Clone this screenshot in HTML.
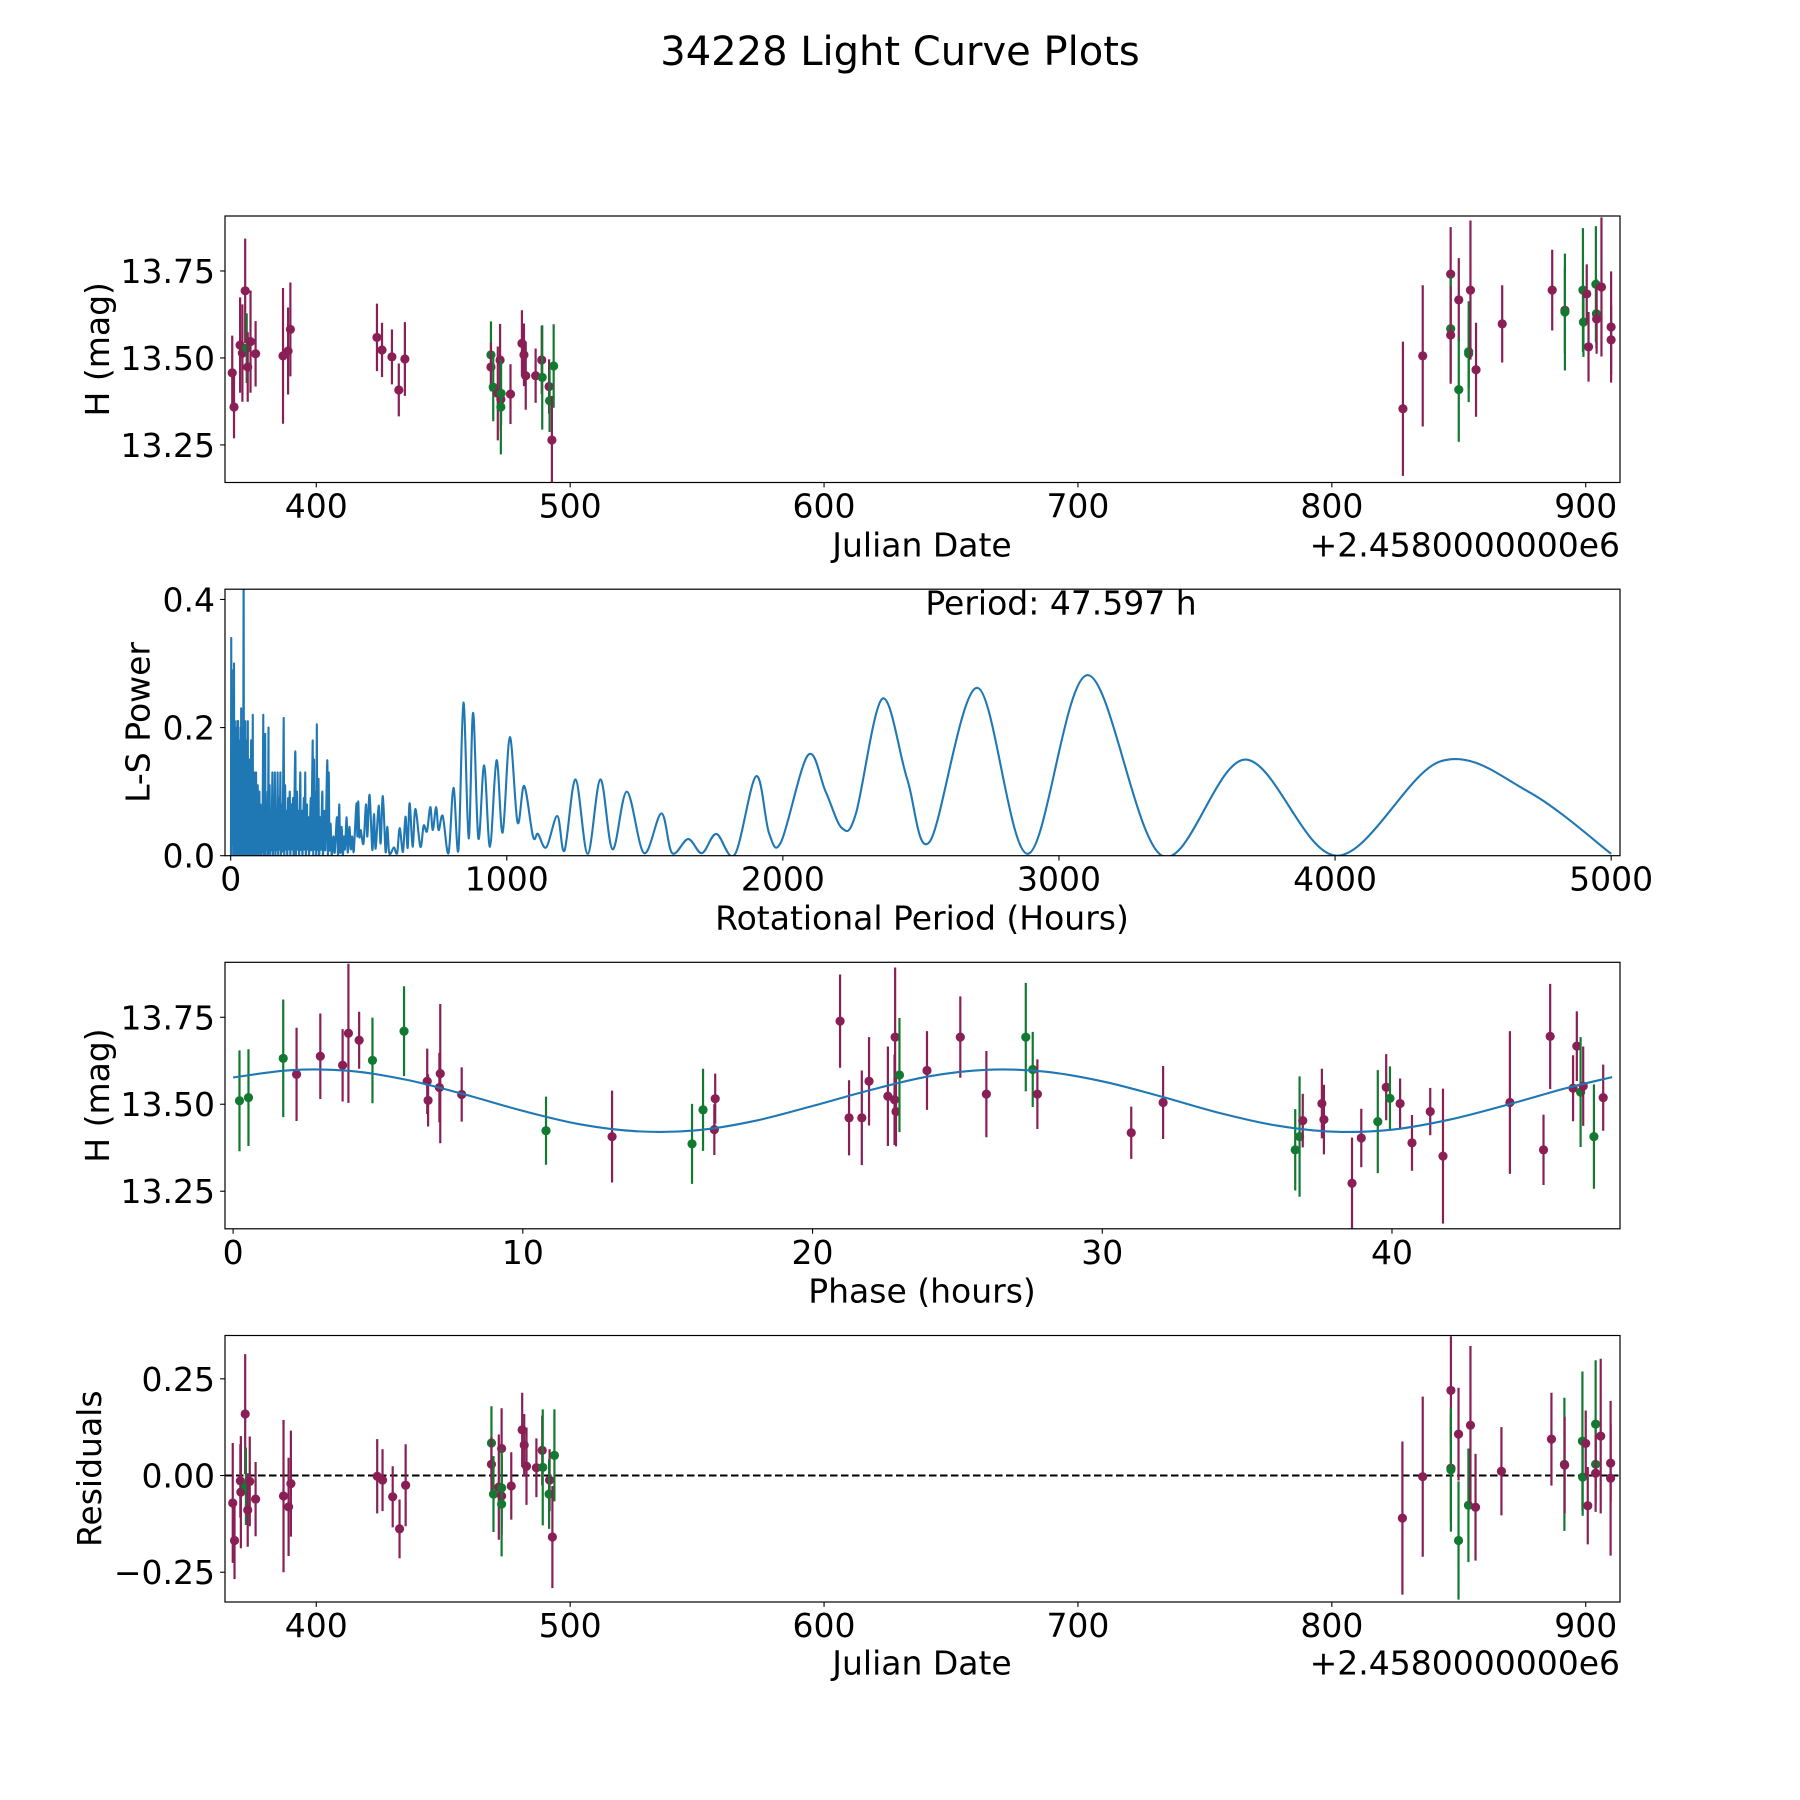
<!DOCTYPE html>
<html>
<head>
<meta charset="utf-8">
<style>
html,body{margin:0;padding:0;background:#fff;}
svg{display:block;}
text{font-family:"DejaVu Sans","Liberation Sans",sans-serif;fill:#000;}
</style>
</head>
<body>
<svg id="fig" width="1800" height="1800" viewBox="0 0 1800 1800" xmlns="http://www.w3.org/2000/svg">
<rect x="0" y="0" width="1800" height="1800" fill="#fff"/>
<text x="900" y="52" font-size="40" text-anchor="middle" dominant-baseline="central">34228 Light Curve Plots</text>
</svg>
<script>
// ---------- Light curve data (JD offset from 2458000) ----------
const lcJd   = [366.9,367.6,370.0,370.9,372.0,372.6,373.0,374.1,376.1,386.9,388.9,389.8,423.9,425.9,429.8,432.5,434.9,
  468.8,468.8,469.7,471.5,472.4,472.7,472.8,472.7,476.5,481.0,481.8,482.5,486.4,488.8,489.0,491.7,491.9,492.8,493.5,
  828.0,835.8,846.8,846.8,846.8,850.0,850.0,853.9,853.9,854.6,856.8,867.1,886.8,891.8,891.8,898.9,899.1,900.4,901.1,904.0,904.2,904.3,906.2,910.0,910.0];
const lcMag  = [13.457,13.359,13.537,13.514,13.693,13.528,13.474,13.547,13.512,13.506,13.520,13.582,13.559,13.523,13.503,13.408,13.497,
  13.509,13.474,13.416,13.398,13.494,13.381,13.398,13.359,13.396,13.542,13.509,13.449,13.449,13.494,13.444,13.418,13.377,13.264,13.477,
  13.354,13.506,13.741,13.584,13.566,13.667,13.409,13.518,13.512,13.695,13.466,13.598,13.695,13.637,13.632,13.695,13.603,13.684,13.532,13.712,13.627,13.612,13.704,13.589,13.552];
const lcErr  = [0.107,0.090,0.137,0.140,0.150,0.100,0.100,0.147,0.094,0.195,0.125,0.135,0.097,0.078,0.079,0.076,0.106,
  0.096,0.070,0.098,0.135,0.104,0.090,0.090,0.136,0.086,0.095,0.090,0.098,0.078,0.098,0.150,0.078,0.090,0.127,0.120,
  0.193,0.203,0.135,0.150,0.140,0.120,0.150,0.145,0.100,0.200,0.135,0.111,0.116,0.123,0.168,0.178,0.100,0.085,0.100,0.167,0.100,0.100,0.200,0.160,0.100];
const lcBand = ['p','p','p','p','p','g','p','p','p','p','p','p','p','p','p','p','p',
  'g','p','g','p','p','p','g','g','p','p','p','p','p','p','g','p','g','p','g',
  'p','p','p','g','p','p','g','g','g','p','p','p','p','p','g','g','g','p','p','g','g','p','p','p','p'];

// ---------- Lomb-Scargle periodogram ----------
const lsPeriod = [1,2,3,5,6,8,9,10,11,12,13,15,16,18,19,21,22,24,25,27,28,30,31,33,34,36,37,38,39,41,42,44,45,47,48,50,51,53,54,56,57,59,60,62,63,65,66,68,69,71,72,74,75,77,78,80,81,83,84,86,87,89,90,92,93,95,96,98,99,101,102,104,105,108,110,113,115,118,119,121,122,125,126,129,131,134,135,137,138,141,143,146,148,151,153,156,158,160,162,165,167,170,172,175,177,180,182,185,188,192,194,197,199,202,205,208,210,214,216,220,222,226,228,234,236,240,242,246,248,252,254,258,260,265,267,270,272,276,278,282,284,290,292,297,299,302,304,308,310,312,314,318,320,325,327,332,334,340,343,350,352,355,358,362,366,372,377,385,389,393,397,402,406,410,414,420,424,430,435,440,445,
  449,456,459,462,466,471,481,490,495,503,513,519,525,536,543,551,561,567,573,579,591,603,612,624,633,641,648,659,669,687,699,711,723,732,744,753,768,789,807,825,843,862,878,897,918,939,963,985,1011,1039,1063,1095,1113,1143,1183,1209,1249,1293,1339,1383,1435,1497,1560,1599,1657,1707,1759,1826,1903,1950,1994,2091,2155,2214,2264,2360,2450,2532,2705,2888,3104,3373,3675,4006,4380,4700,5000];
const lsPower = [0.0,0.34,0.02,0.2,0.03,0.21,0.0,0.29,0.02,0.30,0.05,0.21,0.0,0.15,0.03,0.2,0.0,0.21,0.04,0.21,0.0,0.18,0.02,0.14,0.0,0.20,0.03,0.23,0.0,0.19,0.02,0.2,0.0,0.45,0.0,0.19,0.02,0.21,0.0,0.15,0.02,0.18,0.0,0.21,0.02,0.12,0.0,0.15,0.02,0.12,0.0,0.18,0.02,0.1,0.0,0.22,0.02,0.11,0.0,0.13,0.02,0.09,0.0,0.13,0.02,0.08,0.0,0.11,0.01,0.07,0.0,0.10,0.02,0.08,0.0,0.07,0.01,0.22,0.0,0.09,0.02,0.19,0.0,0.08,0.01,0.10,0.0,0.20,0.01,0.11,0.0,0.06,0.01,0.13,0.0,0.08,0.01,0.13,0.0,0.07,0.01,0.13,0.0,0.09,0.01,0.13,0.0,0.08,0.01,0.215,0.0,0.11,0.01,0.07,0.0,0.09,0.01,0.10,0.0,0.08,0.01,0.09,0.0,0.163,0.0,0.10,0.01,0.07,0.0,0.13,0.01,0.07,0.0,0.09,0.01,0.13,0.0,0.08,0.01,0.06,0.0,0.09,0.01,0.18,0.0,0.15,0.01,0.1,0.0,0.205,0.01,0.12,0.0,0.06,0.01,0.1,0.0,0.07,0.01,0.149,0.0,0.13,0.01,0.05,0.0,0.03,0.005,0.06,0.0,0.08,0.005,0.045,0.0,0.03,0.01,0.06,0.005,0.045,0.01,0.03,0.005,
  0.03,0.082,0.03,0.085,0.03,0.04,0.019,0.08,0.03,0.095,0.009,0.065,0.011,0.078,0.019,0.093,0.006,0.045,0.008,0.003,0.013,0.004,0.043,0.006,0.061,0.012,0.082,0.014,0.073,0.014,0.047,0.038,0.076,0.04,0.076,0.04,0.062,0.004,0.106,0.009,0.239,0.027,0.223,0.027,0.141,0.014,0.149,0.036,0.185,0.052,0.109,0.03,0.034,0.013,0.062,0.008,0.119,0.003,0.119,0.01,0.10,0.004,0.066,0.004,0.026,0.004,0.034,0.002,0.124,0.035,0.022,0.157,0.10,0.043,0.065,0.245,0.12,0.022,0.262,0.003,0.282,0.0,0.150,0.0,0.147,0.100,0.003];

// ---------- Phased light curve ----------
const phHours = [0.22,0.53,1.73,2.19,3.01,3.78,3.98,4.35,4.81,5.90,6.70,6.73,7.15,7.12,7.89,10.8,13.08,15.84,16.22,16.61,16.64,20.95,21.26,21.70,21.95,22.60,22.83,22.85,22.88,23.0,
  23.95,25.1,26.0,27.36,27.6,27.76,31.0,32.1,36.66,36.81,36.92,37.58,37.65,38.62,38.94,39.51,39.8,39.93,40.28,40.69,41.32,41.76,44.07,45.23,45.46,46.25,46.38,46.51,46.6,46.97,47.29];
const phMag = [13.510,13.519,13.632,13.586,13.638,13.612,13.704,13.684,13.626,13.710,13.566,13.511,13.588,13.548,13.528,13.424,13.407,13.386,13.484,13.427,13.516,13.739,13.461,13.461,13.566,13.523,13.513,13.693,13.479,13.584,
  13.597,13.693,13.529,13.693,13.600,13.529,13.418,13.505,13.369,13.407,13.453,13.502,13.456,13.273,13.403,13.450,13.549,13.517,13.502,13.389,13.479,13.351,13.505,13.369,13.695,13.546,13.667,13.535,13.552,13.407,13.519];
const phErr = [0.145,0.139,0.169,0.134,0.123,0.104,0.200,0.082,0.123,0.129,0.094,0.075,0.200,0.100,0.078,0.098,0.132,0.115,0.118,0.073,0.072,0.134,0.108,0.136,0.127,0.143,0.130,0.200,0.100,0.164,
  0.113,0.117,0.124,0.156,0.108,0.100,0.075,0.105,0.117,0.173,0.077,0.100,0.100,0.131,0.084,0.148,0.095,0.092,0.072,0.080,0.068,0.194,0.205,0.101,0.151,0.095,0.100,0.158,0.114,0.150,0.095];
const phBand = ['g','g','g','p','p','p','p','p','g','g','p','p','p','p','p','g','p','g','g','p','p','p','p','p','p','p','p','p','p','g',
  'p','p','p','g','g','p','p','p','g','g','p','p','p','p','p','g','p','g','p','p','p','p','p','p','p','p','p','g','p','g','p'];
// fitted model sampled every 2 hours
const fitPhase = [0,2,4,6,8,10,12,14,16,18,20,22,24,26,28,30,32,34,36,38,40,42,44,46,47.6];
const fitMag = [13.577,13.598,13.596,13.570,13.528,13.481,13.442,13.422,13.425,13.452,13.495,13.541,13.580,13.599,13.594,13.566,13.523,13.476,13.439,13.421,13.427,13.456,13.499,13.546,13.578];

// ---------- Residuals ----------
const resJd = [367.1,367.8,370.1,370.3,372.0,372.3,373.0,373.8,376.1,387.1,389.1,390.0,424.0,426.1,430.1,432.8,435.2,
  469.0,469.0,469.8,471.9,473.0,473.0,473.0,473.0,476.8,481.1,481.9,482.8,486.7,489.0,489.2,491.9,491.7,493.0,493.8,
  827.8,835.8,846.9,846.9,846.9,849.9,849.9,853.8,854.6,856.6,866.8,886.5,891.6,891.7,898.7,898.8,900.0,900.8,903.9,903.9,903.9,905.9,909.8,909.8];
const resVal = [-0.071,-0.168,-0.014,-0.043,0.159,-0.028,-0.089,-0.015,-0.061,-0.053,-0.081,-0.021,-0.002,-0.012,-0.055,-0.138,-0.025,
  0.084,0.029,-0.048,-0.030,0.070,-0.032,-0.053,-0.074,-0.027,0.118,0.079,0.024,0.020,0.065,0.021,-0.012,-0.048,-0.159,0.052,
  -0.110,-0.003,0.220,0.019,0.015,0.107,-0.168,-0.077,0.130,-0.082,0.011,0.094,0.029,0.027,0.089,-0.004,0.083,-0.078,0.133,0.029,0.006,0.102,0.032,-0.007];
const resErr = [0.155,0.100,0.095,0.145,0.155,0.100,0.095,0.116,0.096,0.197,0.127,0.137,0.096,0.080,0.079,0.076,0.106,
  0.095,0.070,0.098,0.136,0.104,0.100,0.100,0.135,0.087,0.096,0.080,0.100,0.076,0.090,0.150,0.080,0.090,0.132,0.119,
  0.198,0.207,0.140,0.140,0.160,0.120,0.153,0.147,0.205,0.138,0.114,0.120,0.172,0.125,0.180,0.100,0.085,0.100,0.165,0.100,0.100,0.200,0.100,0.200];
const resBand = ['p','p','p','p','p','g','p','p','p','p','p','p','p','p','p','p','p',
  'g','p','g','p','p','g','p','g','p','p','p','p','p','p','g','p','g','p','g',
  'p','p','p','p','g','p','g','g','p','p','p','p','g','p','g','g','p','p','g','g','p','p','p','p'];

const xTicksJd = [400,500,600,700,800,900];
const yTicksMag = [13.25,13.50,13.75];
const yTickMagLabels = ['13.25','13.50','13.75'];
const xTicksLs = [0,1000,2000,3000,4000,5000];
const yTicksLs = [0,0.2,0.4];
const yTickLsLabels = ['0.0','0.2','0.4'];
const xTicksPh = [0,10,20,30,40];
const yTicksRes = [-0.25,0,0.25];
const yTickResLabels = ['\u22120.25','0.00','0.25'];

const NS = 'http://www.w3.org/2000/svg';
const svg = document.getElementById('fig');
const COL = {p:'#891f54', g:'#127a30'};
const L = 225, R = 1620, H = 266.5;
const TOPS = [216, 589.2, 962.3, 1335.5];

function mk(tag, attrs, parent) {
  const e = document.createElementNS(NS, tag);
  for (const k in attrs) e.setAttribute(k, attrs[k]);
  (parent || svg).appendChild(e);
  return e;
}
function lin(d0, d1, r0, r1) { return v => r0 + (v - d0) / (d1 - d0) * (r1 - r0); }

function axesFrame(idx, name) {
  const g = mk('g', {});
  
  
  const cp = mk('clipPath', {id: 'clip' + idx}, g);
  mk('rect', {x: L, y: TOPS[idx], width: R - L, height: H}, cp);
  const plot = mk('g', {'clip-path': 'url(#clip' + idx + ')'}, g);
  
  
  return {g, plot, top: TOPS[idx], bot: TOPS[idx] + H};
}
function spines(ax) {
  const r = mk('rect', {x: L, y: ax.top, width: R - L, height: H, fill: 'none', stroke: '#000', 'stroke-width': 1.2}, ax.g);
  
  
}
function xTicks(ax, ticks, labels, X) {
  ticks.forEach((t, i) => {
    const x = X(t);
    mk('line', {x1: x, x2: x, y1: ax.bot, y2: ax.bot + 4.9, stroke: '#000', 'stroke-width': 1.1}, ax.g);
    const tx = mk('text', {x: x, y: ax.bot + 35, 'font-size': 33, 'text-anchor': 'middle'}, ax.g);
    tx.textContent = labels[i];
    
    
  });
}
function yTicks(ax, ticks, labels, Y) {
  ticks.forEach((t, i) => {
    const y = Y(t);
    mk('line', {x1: L - 4.9, x2: L, y1: y, y2: y, stroke: '#000', 'stroke-width': 1.1}, ax.g);
    const tx = mk('text', {x: L - 10, y: y + 12, 'font-size': 33, 'text-anchor': 'end'}, ax.g);
    tx.textContent = labels[i];
    
    
  });
}
function label(ax, txt, x, y, rot, anchor, name) {
  const t = mk('text', {x: 0, y: 0, 'font-size': 33, 'text-anchor': anchor || 'middle', 'dominant-baseline': 'central',
    transform: 'translate(' + x + ',' + y + ')' + (rot ? ' rotate(-90)' : '')}, ax.g);
  t.textContent = txt;
  
  
}
function errPoints(ax, xs, ys, es, bands, X, Y, name) {
  xs.forEach((xv, i) => {
    const x = X(xv), c = COL[bands[i]];
    const ln = mk('line', {x1: x, x2: x, y1: Y(ys[i] + es[i]), y2: Y(ys[i] - es[i]), stroke: c, 'stroke-width': 2.2}, ax.plot);
    
    
    const dot = mk('circle', {cx: x, cy: Y(ys[i]), r: 4.6, fill: c}, ax.plot);
    
    
  });
}
function smoothPath(pts) {
  let d = 'M' + pts[0][0].toFixed(2) + ',' + pts[0][1].toFixed(2);
  for (let i = 0; i < pts.length - 1; i++) {
    const p0 = pts[Math.max(0, i - 1)], p1 = pts[i], p2 = pts[i + 1], p3 = pts[Math.min(pts.length - 1, i + 2)];
    const c1x = p1[0] + (p2[0] - p0[0]) / 6, c1y = p1[1] + (p2[1] - p0[1]) / 6;
    const c2x = p2[0] - (p3[0] - p1[0]) / 6, c2y = p2[1] - (p3[1] - p1[1]) / 6;
    d += ' C' + c1x.toFixed(2) + ',' + c1y.toFixed(2) + ' ' + c2x.toFixed(2) + ',' + c2y.toFixed(2) + ' ' + p2[0].toFixed(2) + ',' + p2[1].toFixed(2);
  }
  return d;
}

// ===== Panel 1: light curve =====
const ax1 = axesFrame(0, 'light-curve-panel');
const X1 = lin(364.05, 913.5, L, R);
const Y1 = lin(13.908, 13.142, ax1.top, ax1.bot);
errPoints(ax1, lcJd, lcMag, lcErr, lcBand, X1, Y1, 'light-curve');
spines(ax1);
xTicks(ax1, xTicksJd, xTicksJd.map(String), X1);
yTicks(ax1, yTicksMag, yTickMagLabels, Y1);
label(ax1, 'Julian Date', 922, 545, false, 'middle', 'x-axis-title');
label(ax1, '+2.4580000000e6', R, 545, false, 'end', 'x-offset-text');
label(ax1, 'H (mag)', 97.5, (ax1.top + ax1.bot) / 2, true, 'middle', 'y-axis-title');

// ===== Panel 2: periodogram =====
const ax2 = axesFrame(1, 'periodogram-panel');
const X2 = lin(-20.6, 5032, L, R);
const Y2 = lin(0, 0.416, ax2.bot, ax2.top);
const lsPts = lsPeriod.map((p, i) => [X2(p), Y2(lsPower[i])]);
const lsLine = mk('path', {d: smoothPath(lsPts), fill: 'none', stroke: '#1f77b4', 'stroke-width': 2.1, 'stroke-linejoin': 'round'}, ax2.plot);


spines(ax2);
xTicks(ax2, xTicksLs, xTicksLs.map(String), X2);
yTicks(ax2, yTicksLs, yTickLsLabels, Y2);
label(ax2, 'Rotational Period (Hours)', 922, 918, false, 'middle', 'x-axis-title');
label(ax2, 'L-S Power', 138, (ax2.top + ax2.bot) / 2, true, 'middle', 'y-axis-title');
label(ax2, 'Period: 47.597 h', 1061, 603, false, 'middle', 'period-annotation');

// ===== Panel 3: phased curve =====
const ax3 = axesFrame(2, 'phase-panel');
const X3 = lin(-0.28, 47.87, L, R);
const Y3 = lin(13.908, 13.142, ax3.top, ax3.bot);
const fitPts = fitPhase.map((p, i) => [X3(p), Y3(fitMag[i])]);
errPoints(ax3, phHours, phMag, phErr, phBand, X3, Y3, 'phase');
const fit = mk('path', {d: smoothPath(fitPts), fill: 'none', stroke: '#1f77b4', 'stroke-width': 2.1}, ax3.plot);


spines(ax3);
xTicks(ax3, xTicksPh, xTicksPh.map(String), X3);
yTicks(ax3, yTicksMag, yTickMagLabels, Y3);
label(ax3, 'Phase (hours)', 922, 1291, false, 'middle', 'x-axis-title');
label(ax3, 'H (mag)', 97.5, (ax3.top + ax3.bot) / 2, true, 'middle', 'y-axis-title');

// ===== Panel 4: residuals =====
const ax4 = axesFrame(3, 'residuals-panel');
const X4 = lin(364.05, 913.5, L, R);
const Y4 = lin(0.362, -0.327, ax4.top, ax4.bot);
const zl = mk('line', {x1: L, x2: R, y1: Y4(0), y2: Y4(0), stroke: '#000', 'stroke-width': 2, 'stroke-dasharray': '7.5,3.5'}, ax4.plot);


errPoints(ax4, resJd, resVal, resErr, resBand, X4, Y4, 'residual');
spines(ax4);
xTicks(ax4, xTicksJd, xTicksJd.map(String), X4);
yTicks(ax4, yTicksRes, yTickResLabels, Y4);
label(ax4, 'Julian Date', 922, 1663, false, 'middle', 'x-axis-title');
label(ax4, '+2.4580000000e6', R, 1663, false, 'end', 'x-offset-text');
label(ax4, 'Residuals', 89.5, (ax4.top + ax4.bot) / 2, true, 'middle', 'y-axis-title');
</script>
</body>
</html>
